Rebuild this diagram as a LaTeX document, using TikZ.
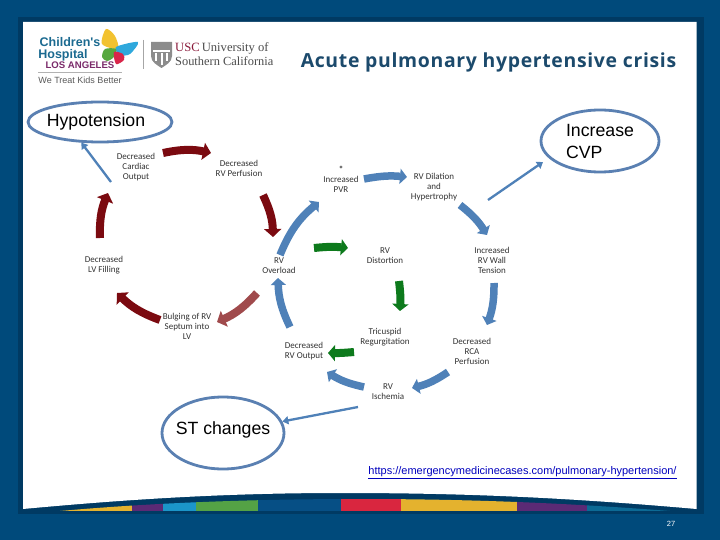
\documentclass[tikz,border=0pt]{standalone}
\usepackage{fontspec}
\setmainfont{Carlito}
\newfontfamily\sansfont{Liberation Sans}
\newfontfamily\headfont[LetterSpace=3.5]{Open Sans}
\newfontfamily\serfont{Liberation Serif}
\usetikzlibrary{shapes.geometric,arrows.meta,calc}
\definecolor{slidebg}{HTML}{004A7B}
\definecolor{slideshade}{HTML}{003A63}
\definecolor{titleblue}{HTML}{1C4A6C}
\definecolor{loopblue}{HTML}{4F81B8}
\definecolor{loopred}{HTML}{7B0A10}
\definecolor{fadedred}{HTML}{A04A4C}
\definecolor{loopgreen}{HTML}{0D7A1C}
\definecolor{ringblue}{HTML}{5A80B2}
\definecolor{hospitalblue}{HTML}{1B6A90}
\definecolor{angelespurple}{HTML}{7A2A6A}
\definecolor{uscred}{HTML}{8A1A3A}
\definecolor{linkblue}{HTML}{0000BE}
\definecolor{stripeyellow}{HTML}{E4B22E}
\definecolor{stripepurple}{HTML}{5B2A75}
\definecolor{stripecyan}{HTML}{1B95C9}
\definecolor{stripegreen}{HTML}{54A245}
\definecolor{stripeblue}{HTML}{064F85}
\definecolor{stripered}{HTML}{D9263F}
\definecolor{stripeteal}{HTML}{0C6A95}
\definecolor{wingyellow}{HTML}{F2C230}
\definecolor{wingblue}{HTML}{2FA8DC}
\definecolor{winggreen}{HTML}{57A83F}
\definecolor{wingred}{HTML}{D9264A}

\begin{document}
\begin{tikzpicture}[
  x=1pt, y=-1pt,
  step label/.style={
    align=center, font=\fontsize{9}{10}\selectfont, text=black!80, inner sep=0pt
  },
  ring/.style={
    draw=ringblue, ellipse, line width=2.8pt, inner sep=0pt, text=black,
    align=left, font=\sansfont\fontsize{17.7}{22}\selectfont
  },
  redarrow/.style={
    draw=loopred, line width=8pt, -{Triangle[length=8pt,width=17pt]}
  },
  bluearrow/.style={
    draw=loopblue, line width=7.5pt, -{Triangle[length=7pt,width=15pt]}
  },
  greenarrow/.style={
    draw=loopgreen, line width=8pt, -{Triangle[length=7pt,width=16pt]}
  },
  thinarrow/.style={
    draw=loopblue, line width=2.3pt, -{Triangle[length=6pt,width=8pt]}
  },
]
\useasboundingbox (0,0) rectangle (720,540);

% slide frame
\fill[slidebg] (0,0) rectangle (720,540);
\fill[slideshade] (18,17) rectangle (704,514);
\fill[white] (23,22) -- (696.5,22) -- (696.5,509)
  .. controls (560,497) and (460,493) .. (340,493)
  .. controls (220,493) and (120,500) .. (23,509) -- cycle;
\begin{scope}
  \clip (60,511) .. controls (150,503) and (250,499) .. (360,499)
    .. controls (480,499) and (580,504) .. (670,511) -- cycle;
  \fill[stripeyellow] (60,495) rectangle (132,511);
  \fill[stripepurple] (132,495) rectangle (163,511);
  \fill[stripecyan] (163,495) rectangle (196,511);
  \fill[stripegreen] (196,495) rectangle (258,511);
  \fill[stripeblue] (258,495) rectangle (341,511);
  \fill[stripered] (341,495) rectangle (401,511);
  \fill[stripeyellow] (401,495) rectangle (517,511);
  \fill[stripepurple] (517,495) rectangle (587,511);
  \fill[stripeteal] (587,495) rectangle (670,511);
\end{scope}

% logos
\fill[wingyellow] plot[smooth cycle] coordinates {(102,44) (106,29) (115,36) (118,49)};
\fill[wingblue] plot[smooth cycle] coordinates {(116,47) (138,42) (130,54) (120,55)};
\fill[winggreen] plot[smooth cycle] coordinates {(102,57) (105,49) (116,49) (114,57) (107,61)};
\fill[wingred] plot[smooth cycle] coordinates {(114,52) (123,54) (124,60) (116,64)};
\draw[black!30, line width=0.5pt] (38,72.5) -- (122,72.5);
\draw[black!35, line width=0.6pt] (143.5,40) -- (143.5,69);
\fill[black!45] (151,42) -- (172,42) -- (172,56) .. controls (172,62) and (166,65) .. (161.5,68)
  .. controls (157,65) and (151,62) .. (151,56) -- cycle;
\fill[white] (153,50) rectangle (170,52);
\fill[white] (155,53) rectangle (157,61);
\fill[white] (160.5,53) rectangle (162.5,65);
\fill[white] (166,53) rectangle (168,61);

\node[inner sep=0pt, text=hospitalblue, font=\sansfont\bfseries\fontsize{12.5}{12}\selectfont] (childrens) at (70,42) {Children's};
\node[inner sep=0pt, text=hospitalblue, font=\sansfont\bfseries\fontsize{12.5}{12}\selectfont] (hospital) at (63,55.5) {Hospital};
\node[inner sep=0pt, text=angelespurple, font=\sansfont\bfseries\fontsize{9.6}{9}\selectfont] (losangeles) at (80,65.5) {LOS ANGELES};
\node[inner sep=0pt, text=black!65, font=\sansfont\fontsize{9}{9}\selectfont] (better) at (80,80.5) {We Treat Kids Better};
\node[anchor=west, inner sep=0pt, font=\serfont\fontsize{12.6}{14}\selectfont] (usc) at (175,48.5)
  {\textcolor{uscred}{USC}\,\textcolor{black!70}{University of}};
\node[anchor=west, inner sep=0pt, text=black!70, font=\serfont\fontsize{12.4}{14}\selectfont] (southern) at (175,61) {Southern California};

\node[text=titleblue, inner sep=0pt, font=\headfont\bfseries\fontsize{19.4}{20}\selectfont] (title) at (488.5,62)
  {Acute pulmonary hypertensive crisis};

% first loop
\node[step label] (dco) at (136,167) {Decreased\\Cardiac\\Output};
\node[step label] (drp) at (239,168) {Decreased\\RV Perfusion};
\node[step label] (ovl) at (279,266) {RV\\Overload};
\node[step label] (blg) at (187,326) {Bulging of RV\\Septum into\\LV};
\node[step label] (dlv) at (104,265) {Decreased\\LV Filling};

% second loop
\node[step label] (pvr) at (341,179) {\textbf{*}\\Increased\\PVR};
\node[step label] (dil) at (434,187) {RV Dilation\\and\\Hypertrophy};
\node[step label] (wall) at (492,260) {Increased\\RV Wall\\Tension};
\node[step label] (rca) at (472,351) {Decreased\\RCA\\Perfusion};
\node[step label] (isc) at (388,392) {RV\\Ischemia};
\node[step label] (out) at (304,351) {Decreased\\RV Output};

% inner loop
\node[step label] (dist) at (385,256) {RV\\Distortion};
\node[step label] (tric) at (385,337) {Tricuspid\\Regurgitation};

% callouts
\node[ring, minimum width=144pt, minimum height=40pt] (hypo) at (100,122) {\makebox[0pt]{Hypotension\hspace{8pt}}};
\node[ring, minimum width=118pt, minimum height=62pt] (cvp) at (600,141) {Increase\\CVP};
\node[ring, minimum width=122pt, minimum height=72pt] (stc) at (223,433) {\makebox[0pt]{\raisebox{9pt}{ST changes}}};

\node[inner sep=0pt, text=linkblue, font=\sansfont\fontsize{11}{12}\selectfont] (link) at (522.5,472.5)
  {\underline{https://emergencymedicinecases.com/pulmonary-hypertension/}};
\node[inner sep=0pt, text=white, font=\sansfont\fontsize{7.5}{8}\selectfont] (page) at (671,524) {27};

\draw[redarrow] ($(dco)+(27,-14)$) to[bend left=12] ($(drp)+(-28,-15)$);
\draw[redarrow] ($(drp)+(24,27)$) to[bend left=12] ($(ovl)+(-6,-29)$);
\draw[redarrow, draw=fadedred] ($(ovl)+(-22,27)$) to[bend left=12] ($(blg)+(30,-4)$);
\draw[redarrow] ($(blg)+(-27,-6)$) to[bend left=12] ($(dlv)+(13,28)$);
\draw[redarrow] ($(dlv)+(-4,-27)$) to[bend left=12] ($(dco)+(-28,26)$);

\draw[bluearrow] ($(ovl)+(1,-11)$) to[bend left=14] ($(pvr)+(-22,23)$);
\draw[bluearrow] ($(pvr)+(23,0)$) to[bend left=8] ($(dil)+(-27,-10)$);
\draw[bluearrow] ($(dil)+(26,18)$) to[bend left=10] ($(wall)+(-5,-25)$);
\draw[bluearrow] ($(wall)+(2,23)$) to[bend left=10] ($(rca)+(15,-26)$);
\draw[bluearrow] ($(rca)+(-24,21)$) to[bend left=10] ($(isc)+(24,-4)$);
\draw[bluearrow] ($(isc)+(-24,-5)$) to[bend left=10] ($(out)+(23,21)$);
\draw[bluearrow] ($(out)+(-14,-24)$) to[bend left=12] ($(ovl)+(-1,12)$);

\draw[greenarrow] ($(dist)+(-71,-8)$) to[bend left=6] ($(dist)+(-37,-8)$);
\draw[greenarrow] ($(dist)+(14,25)$) to[bend left=5] ($(tric)+(15,-26)$);
\draw[greenarrow] ($(tric)+(-31,15)$) to[bend left=3] ($(out)+(24,2)$);

\draw[thinarrow] ($(dco)+(-25,15)$) -- (hypo.228);
\draw[thinarrow] ($(dil)+(54,13)$) -- ($(cvp)+(-57,21)$);
\draw[thinarrow] ($(isc)+(-30,15)$) -- (stc.11);
\end{tikzpicture}
\end{document}
